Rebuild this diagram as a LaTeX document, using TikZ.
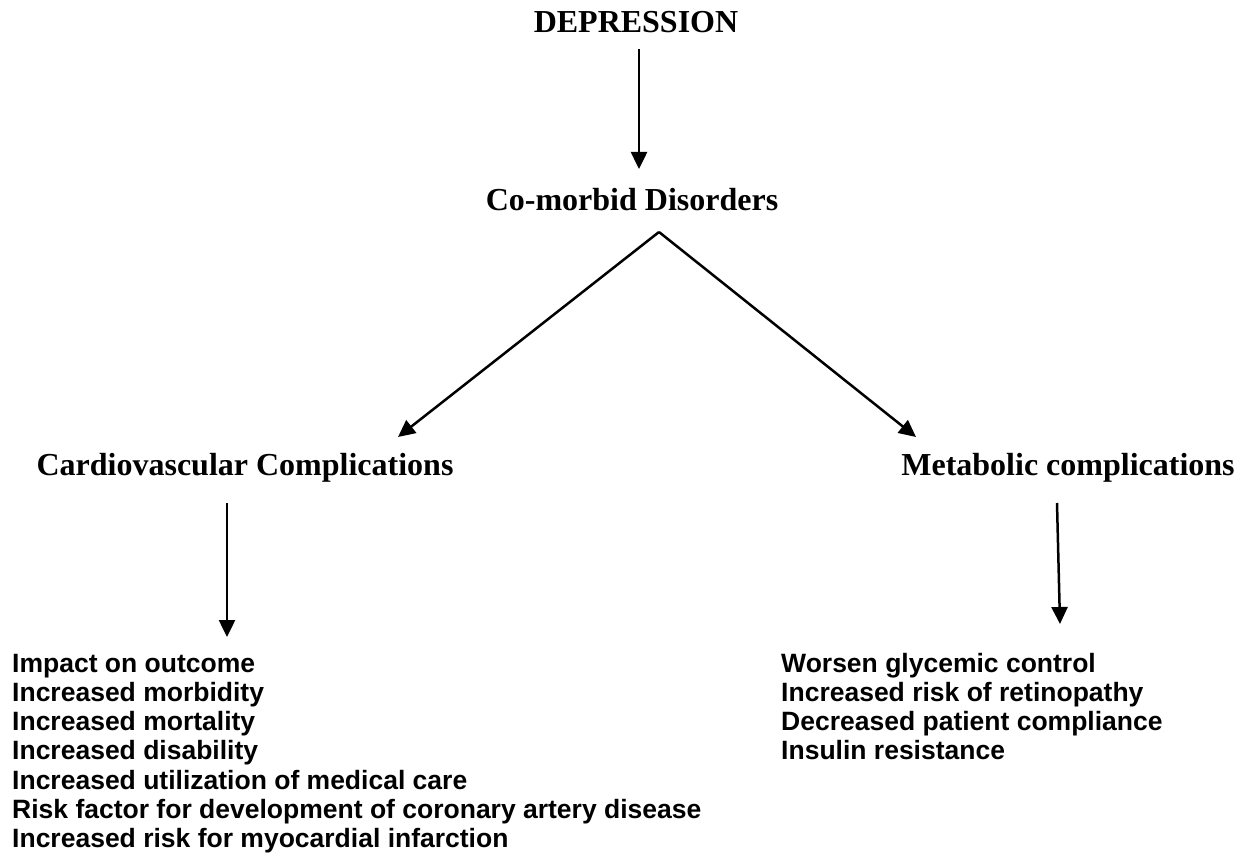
\documentclass[tikz,border=0pt]{standalone}
\usepackage{fontspec}
\setmainfont{Liberation Serif}
\newfontfamily\listfont{Liberation Sans}
\usetikzlibrary{arrows.meta}
\begin{document}
\begin{tikzpicture}[x=1pt,y=-1pt,
  title/.style={font=\fontsize{32}{36}\selectfont\bfseries, inner sep=0pt, anchor=base},
  item/.style={font=\listfont\fontsize{26.5}{30}\selectfont\bfseries, inner sep=0pt, anchor=base west},
  conn/.style={line width=2.5pt, -{Triangle[length=17pt,width=16pt]}}]
\fill[white] (0,0) rectangle (1244,861);
\useasboundingbox (0,0) rectangle (1244,861);

\node[title] (dep) at (636,33) {DEPRESSION};
\node[title] (com) at (632,211) {Co-morbid Disorders};
\node[title] (cv) at (245,475) {Cardiovascular Complications};
\node[title] (met) at (1068,475) {Metabolic complications};

\node[item] (l1) at (12,672) {Impact on outcome};
\node[item] (l2) at (12,701.3) {Increased morbidity};
\node[item] (l3) at (12,730.6) {Increased mortality};
\node[item] (l4) at (12,759.9) {Increased disability};
\node[item] (l5) at (12,789.2) {Increased utilization of medical care};
\node[item] (l6) at (12,818.5) {Risk factor for development of coronary artery disease};
\node[item] (l7) at (12,847.8) {Increased risk for myocardial infarction};

\node[item] (r1) at (781,672) {Worsen glycemic control};
\node[item] (r2) at (781,701) {Increased risk of retinopathy};
\node[item] (r3) at (781,730) {Decreased patient compliance};
\node[item] (r4) at (781,759) {Insulin resistance};

\draw[conn] ([shift={(3,16)}]dep.base) -- ([shift={(7,-42)}]com.base);
\draw[conn] ([shift={(27,21)}]com.base) -- ([shift={(153,-38)}]cv.base);
\draw[conn] ([shift={(27,21)}]com.base) -- ([shift={(-152,-38)}]met.base);
\draw[conn] ([shift={(-18,28)}]cv.base) -- ([shift={(215,-35)}]l1.base west);
\draw[conn] ([shift={(-11,28)}]met.base) -- ([shift={(279,-48)}]r1.base west);
\end{tikzpicture}
\end{document}
